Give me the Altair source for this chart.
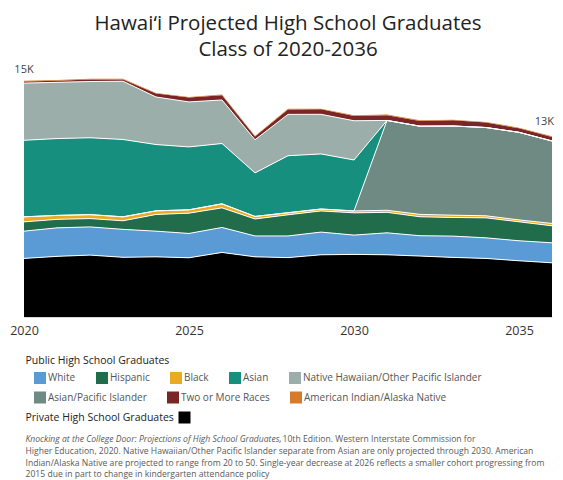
import altair as alt
import pandas as pd

years = list(range(2020, 2037))

private = [3720, 3850, 3930, 3790, 3820, 3760, 4100, 3820, 3770, 3950, 3975, 3950, 3870, 3785, 3720, 3570, 3440]
white = [1730, 1810, 1790, 1775, 1630, 1545, 1585, 1325, 1375, 1440, 1225, 1395, 1290, 1350, 1305, 1270, 1270]
hispanic = [590, 540, 530, 545, 1060, 1290, 1245, 1080, 1345, 1345, 1415, 1300, 1205, 1185, 1270, 1205, 1080]
black = [320, 250, 250, 250, 230, 210, 255, 160, 130, 120, 120, 130, 150, 145, 130, 120, 150]
asian_pi = [0, 0, 0, 0, 0, 0, 0, 0, 0, 0, 0, 5705, 5600, 5660, 5605, 5560, 5235]
asian = [4860, 4880, 4880, 4910, 4210, 3995, 3830, 2765, 3620, 3500, 3235, 0, 0, 0, 0, 0, 0]
nhopi = [3630, 3570, 3570, 3700, 3020, 2855, 2765, 2105, 2625, 2515, 2490, 0, 0, 0, 0, 0, 0]
two_more = [110, 95, 125, 110, 215, 280, 300, 200, 315, 315, 300, 335, 335, 360, 315, 255, 255]
aian = [40, 45, 45, 40, 40, 40, 40, 35, 45, 45, 45, 45, 45, 45, 40, 40, 40]

stack_names = [
    "Private High School Graduates", "White", "Hispanic", "Black",
    "Asian/Pacific Islander", "Asian", "Native Hawaiian/Other Pacific Islander",
    "Two or More Races", "American Indian/Alaska Native",
]
stack_values = [private, white, hispanic, black, asian_pi, asian, nhopi, two_more, aian]

# legend rows (public) and their colours
row1_names = ["White", "Hispanic", "Black", "Asian", "Native Hawaiian/Other Pacific Islander"]
row1_colors = ["#5B9BD5", "#216C4A", "#EAAA24", "#178F7F", "#9CAEA9"]
row2_names = ["Asian/Pacific Islander", "Two or More Races", "American Indian/Alaska Native"]
row2_colors = ["#6E8A82", "#7A2626", "#D67A2B"]
private_names = ["Private High School Graduates"]
private_colors = ["#000000"]

line_series = ["Private High School Graduates", "White", "Hispanic", "Black",
               "Asian/Pacific Islander", "Asian", "Native Hawaiian/Other Pacific Islander"]

end_label_years = [2020, 2036]
end_label_texts = ["15K", "13K"]

title_lines = ["Hawai\u2018i Projected High School Graduates", "Class of 2020-2036"]
x_ticks = [2020, 2025, 2030, 2035]

public_heading = "Public High School Graduates"
note_italic = "Knocking at the College Door: Projections of High School Graduates,"
note_line1 = "10th Edition. Western Interstate Commission for"
note_lines = [
    "Higher Education, 2020. Native Hawaiian/Other Pacific Islander separate from Asian are only projected through 2030. American",
    "Indian/Alaska Native are projected to range from 20 to 50. Single-year decrease at 2026 reflects a smaller cohort progressing from",
    "2015 due in part to change in kindergarten attendance policy",
]

FONT = "Open Sans"

rows = []
for order, (name, vals) in enumerate(zip(stack_names, stack_values)):
    for yr, v in zip(years, vals):
        rows.append({"year": yr, "series": name, "value": v, "order": order})
df = pd.DataFrame(rows)

totals = {yr: sum(vals[i] for vals in stack_values) for i, yr in enumerate(years)}
lab_df = pd.DataFrame({"year": end_label_years,
                       "total": [totals[y] for y in end_label_years],
                       "text": end_label_texts})

xenc = alt.X("year:Q",
             scale=alt.Scale(domain=[2020, 2036], nice=False, zero=False),
             axis=alt.Axis(values=x_ticks, format="d", title=None, ticks=False, tickSize=0,
                           grid=False, labelFlush=False, labelFont=FONT, labelFontSize=12.5,
                           labelColor="#333333", labelPadding=7, domainColor="#d9d9d9"))
yscale = alt.Scale(domain=[0, 16000], nice=False)

base = alt.Chart(df).transform_stack(
    stack="value", groupby=["year"],
    sort=[alt.SortField(field="order", order="ascending")],
    as_=["y0", "y1"],
)


def row_legend(ly):
    return alt.Legend(title=None, orient="none", legendX=10, legendY=ly,
                      direction="horizontal", symbolType="square", symbolSize=144,
                      symbolStrokeWidth=0, labelFont=FONT, labelFontSize=10,
                      labelColor="#555555", labelOffset=2, columnPadding=20,
                      padding=0, labelLimit=300)


def area_layer(names, colors, legend):
    return base.transform_filter(
        alt.FieldOneOfPredicate(field="series", oneOf=names)
    ).mark_area(opacity=1).encode(
        x=xenc,
        y=alt.Y("y0:Q", stack=None, scale=yscale, axis=None),
        y2="y1:Q",
        color=alt.Color("series:N", scale=alt.Scale(domain=names, range=colors), legend=legend),
    )


row1 = area_layer(row1_names, row1_colors, row_legend(307))
row2 = area_layer(row2_names, row2_colors, row_legend(326.5))
priv = area_layer(private_names, private_colors,
                  alt.Legend(title=private_names[0], titleOrient="left", orient="none",
                             legendX=1.5, legendY=346.5, titleFont=FONT,
                             titleFontSize=10.5, titleFontWeight="normal",
                             titleColor="#222222", titlePadding=4,
                             symbolType="square", symbolSize=144, symbolStrokeWidth=0,
                             labelExpr="''", padding=0))

lines = base.transform_filter(
    alt.FieldOneOfPredicate(field="series", oneOf=line_series)
).mark_line(color="white", strokeWidth=1).encode(
    x=xenc,
    y=alt.Y("y1:Q", scale=yscale, axis=None),
    detail="series:N",
)

lab_start = alt.Chart(lab_df).transform_filter(f"datum.year == {end_label_years[0]}").mark_text(
    dy=-11, font=FONT, fontSize=11, color="#444444"
).encode(x=xenc, y=alt.Y("total:Q", scale=yscale, axis=None), text="text:N")

lab_end = alt.Chart(lab_df).transform_filter(f"datum.year == {end_label_years[1]}").mark_text(
    dy=-14, dx=2, align="right", font=FONT, fontSize=11, color="#444444"
).encode(x=xenc, y=alt.Y("total:Q", scale=yscale, axis=None), text="text:N")


def note(text, x, y, size=8.6, color="#595959", style="normal"):
    return alt.Chart(pd.DataFrame({"t": [text]})).mark_text(
        align="left", baseline="alphabetic", font=FONT, fontSize=size,
        color=color, fontStyle=style
    ).encode(x=alt.value(x), y=alt.value(y), text="t:N")


texts = [
    note(public_heading, 1.5, 299.3, size=10.5, color="#222222"),
    note(note_italic, 1.5, 377.3, style="italic"),
    note(note_line1, 258.5, 377.3),
    note(note_lines[0], 1.5, 389.0),
    note(note_lines[1], 1.5, 400.7),
    note(note_lines[2], 1.5, 412.4),
]

chart = alt.layer(priv, row1, row2, lines, lab_start, lab_end, *texts).resolve_scale(
    color="independent"
).properties(
    width=528, height=252,
    padding={"left": 16, "top": 57, "right": 3, "bottom": 163},
    autosize=alt.AutoSizeParams(type="none"),
    title=alt.TitleParams(text=title_lines, font=FONT, fontSize=20.5, fontWeight="normal",
                          color="#222222", anchor="middle", frame="group",
                          lineHeight=26, offset=0, dy=-3),
).configure_view(strokeWidth=0)

chart.save("out.html", embed_options={"renderer": "svg", "actions": False})
